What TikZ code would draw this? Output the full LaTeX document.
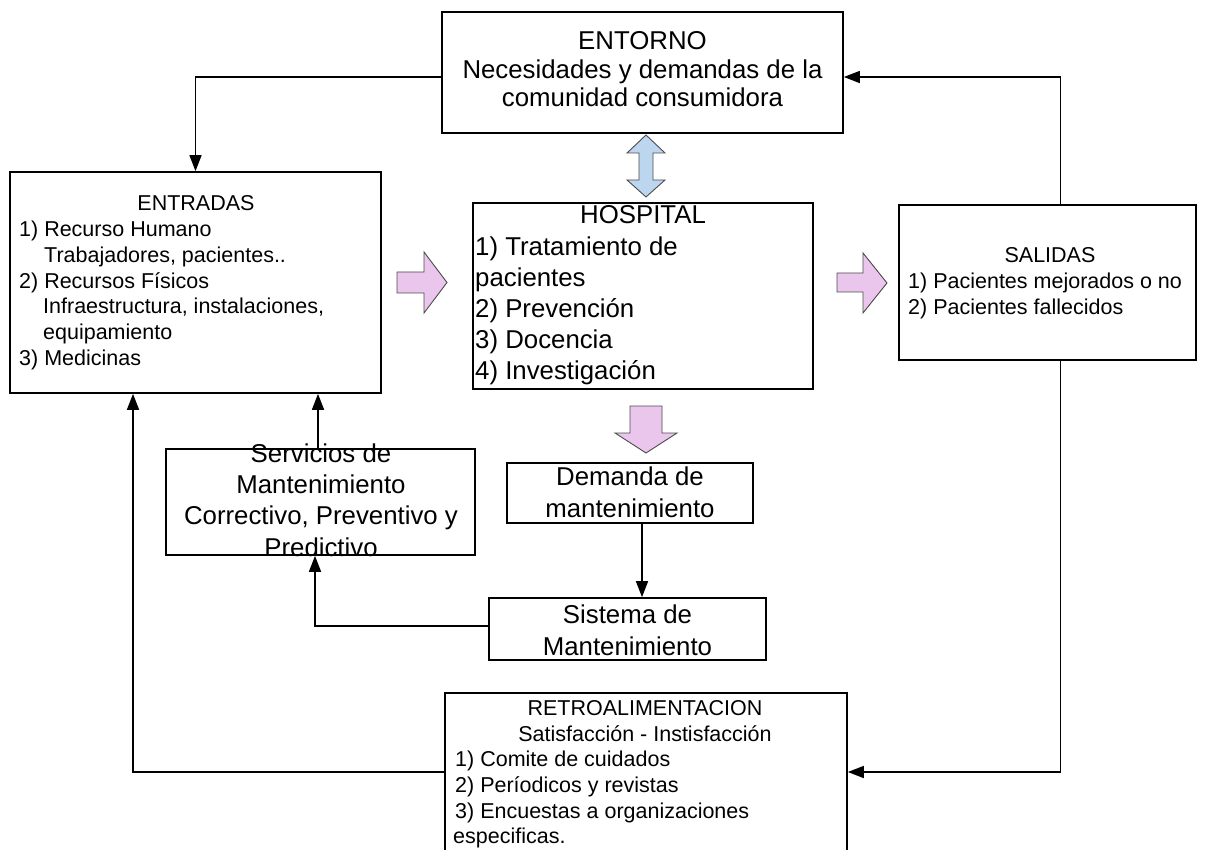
\documentclass[tikz,border=0pt]{standalone}
\usepackage{fontspec}
\setmainfont{Liberation Sans}
\usetikzlibrary{arrows.meta}
\definecolor{pinkfill}{HTML}{EAC5EC}
\definecolor{bluefill}{HTML}{BCD6F0}
\tikzset{
  box/.style={draw=black, line width=1.7pt, inner sep=0pt},
  conn/.style={draw=black, line width=1.6pt, -{Triangle[length=16pt,width=12pt]}},
  big/.style={font=\fontsize{25.8}{30}\selectfont, inner sep=0pt},
  small/.style={font=\fontsize{21.5}{25}\selectfont, inner sep=0pt},
  pinkarrow/.style={draw=black!70, line width=0.9pt, fill=pinkfill},
  bluearrow/.style={draw=black!70, line width=0.9pt, fill=bluefill},
}
\begin{document}
\begin{tikzpicture}[x=1pt,y=-1pt]
\useasboundingbox (0,0) rectangle (1208,850);
\clip (0,11.6) rectangle (1208,850);
% boxes
\node[box, minimum width=401pt, minimum height=121pt] (ent) at (642.5,72.5) {};
\node[box, minimum width=371pt, minimum height=221pt] (inp) at (195.5,282.5) {};
\node[box, minimum width=340pt, minimum height=186pt] (hos) at (643,296) {};
\node[box, minimum width=297pt, minimum height=155pt] (sal) at (1047.5,282.5) {};
\node[box, minimum width=246pt, minimum height=60pt] (dem) at (630,493) {};
\node[box, minimum width=277pt, minimum height=62pt] (sis) at (627.5,629) {};
\node[box, minimum width=309pt, minimum height=106pt] (srv) at (320.5,502) {};
\node[box, minimum width=402pt, minimum height=177pt] (ret) at (646,781.5) {};
% ENTORNO text
\node[big, anchor=base] (t1) at (642.5,50) {ENTORNO};
\node[big, anchor=base] (t2) at (642.5,79) {Necesidades y demandas de la};
\node[big, anchor=base] (t3) at (642.5,107) {comunidad consumidora};
% ENTRADAS text
\node[small, anchor=base] (e0) at (196,211) {ENTRADAS};
\node[small, anchor=base west] (e1) at (19,236.7) {1) Recurso Humano};
\node[small, anchor=base west] (e2) at (44,262.4) {Trabajadores, pacientes..};
\node[small, anchor=base west] (e3) at (19,288.1) {2) Recursos Físicos};
\node[small, anchor=base west] (e4) at (43,313.8) {Infraestructura, instalaciones,};
\node[small, anchor=base west] (e5) at (43,339.5) {equipamiento};
\node[small, anchor=base west] (e6) at (19,365.2) {3) Medicinas};
% HOSPITAL text
\node[big, anchor=base] (h0) at (643,224) {HOSPITAL};
\node[big, anchor=base west] (h1) at (475,255.2) {1) Tratamiento de};
\node[big, anchor=base west] (h2) at (475,286.4) {pacientes};
\node[big, anchor=base west] (h3) at (475,317.6) {2) Prevención};
\node[big, anchor=base west] (h4) at (475,348.8) {3) Docencia};
\node[big, anchor=base west] (h5) at (475,380) {4) Investigación};
% SALIDAS text
\node[small, anchor=base] (s0) at (1050,263) {SALIDAS};
\node[small, anchor=base west] (s1) at (908,289) {1) Pacientes mejorados o no};
\node[small, anchor=base west] (s2) at (908,314.5) {2) Pacientes fallecidos};
% Demanda / Sistema / Servicios
\node[big, anchor=base] (d1) at (630,485) {Demanda de};
\node[big, anchor=base] (d2) at (630,517) {mantenimiento};
\node[big, anchor=base] (m1) at (627.5,623) {Sistema de};
\node[big, anchor=base] (m2) at (627.5,655) {Mantenimiento};
\node[big, anchor=base] (v1) at (321,462) {Servicios de};
\node[big, anchor=base] (v2) at (321,493) {Mantenimiento};
\node[big, anchor=base] (v3) at (321,524.5) {Correctivo, Preventivo y};
\node[big, anchor=base] (v4) at (321,556) {Predictivo};
% RETROALIMENTACION text
\node[small, anchor=base] (r0) at (645,715) {RETROALIMENTACION};
\node[small, anchor=base] (r1) at (645,741) {Satisfacción - Instisfacción};
\node[small, anchor=base west] (r2) at (455,766.5) {1) Comite de cuidados};
\node[small, anchor=base west] (r3) at (455,792) {2) Períodicos y revistas};
\node[small, anchor=base west] (r4) at (455,818) {3) Encuestas a organizaciones};
\node[small, anchor=base west] (r5) at (453,843.5) {especificas.};
% big block arrows
\draw[pinkarrow] (397,272) -- (424,272) -- (424,252) -- (447,282.5) -- (424,313) -- (424,293) -- (397,293) -- cycle;
\draw[pinkarrow] (837,273) -- (863,273) -- (863,253) -- (887,283) -- (863,313) -- (863,292) -- (837,292) -- cycle;
\draw[pinkarrow] (630,406) -- (662,406) -- (662,433) -- (677,433) -- (646,453) -- (615,433) -- (630,433) -- cycle;
\draw[bluearrow] (646,135) -- (665,153) -- (653,153) -- (653,180) -- (665,180) -- (646,197) -- (627,180) -- (639,180) -- (639,153) -- (627,153) -- cycle;
% connectors
\draw[conn] ([yshift=-4.5pt]ent.west) -| (inp.north);
\draw[conn] ([xshift=13pt]sal.north) |- ([yshift=-4.5pt]ent.east);
\draw[conn] ([xshift=13pt]sal.south) |- ([yshift=9.5pt]ret.east);
\draw[conn] ([yshift=9.5pt]ret.west) -| ([xshift=-62.5pt]inp.south);
\draw[conn] ([xshift=-2.5pt]srv.north) -- ([xshift=-2.5pt]srv.north |- inp.south);
\draw[conn] ([xshift=12pt]dem.south) -- ([xshift=12pt]dem.south |- sis.north);
\draw[conn] ([yshift=3pt]sis.west) -| ([xshift=-5.5pt]srv.south);
\end{tikzpicture}
\end{document}
